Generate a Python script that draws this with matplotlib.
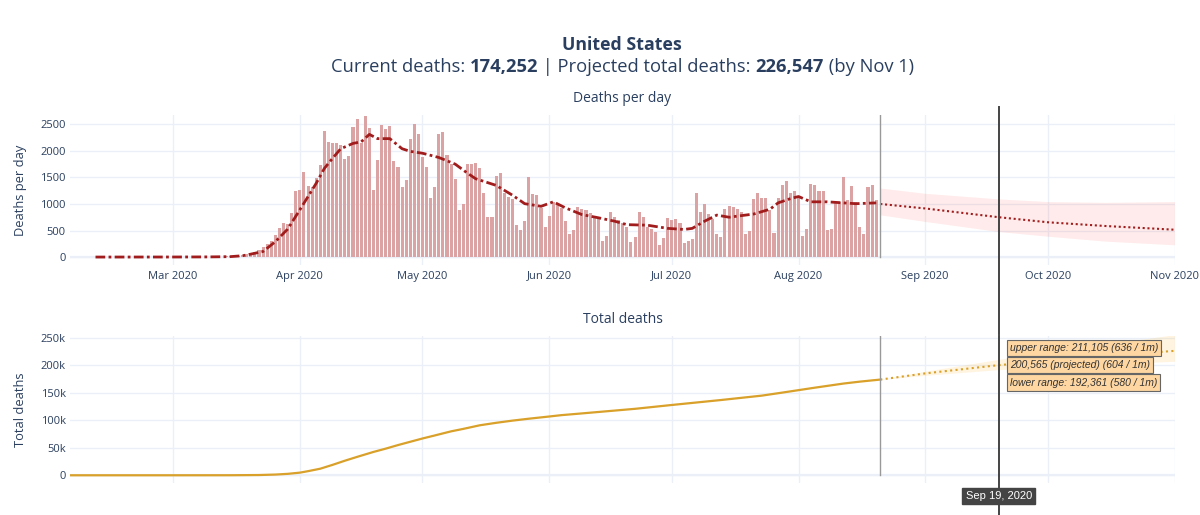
import numpy as np
import pandas as pd
import matplotlib
matplotlib.use('Agg')
import matplotlib.pyplot as plt
import matplotlib.dates as mdates

# Data
daily_start = '2020-03-01'
daily_deaths = [
    # Mar 1 - Mar 26
    1, 0, 3, 4, 1, 2, 3, 4, 4, 6, 8, 7, 10, 11, 13, 18, 24, 40, 55, 80, 100, 130, 190, 240, 310, 420,
    # Mar 27 - Apr 24
    555, 650, 620, 830, 1250, 1260, 1600, 1330, 1310, 1490, 1730, 2370, 2160, 2140, 2140, 2110,
    1840, 1900, 2450, 2600, 2150, 2650, 2430, 1270, 1820, 2490, 2420, 2470, 1800,
    # Apr 25 - Aug 20
    1690, 1325, 1450, 2230, 2510, 2325, 1890, 1690, 1106, 1310, 2310, 2355, 1930, 1760, 1475,
    890, 1000, 1745, 1760, 1775, 1670, 1200, 750, 760, 1530, 1575, 1200, 1140, 1100, 605,
    510, 680, 1510, 1180, 1160, 920, 575, 775, 1045, 1010, 930, 680, 440, 510, 940,
    910, 890, 825, 775, 750, 295, 390, 840, 750, 700, 640, 575, 275, 375, 840,
    760, 575, 525, 480, 230, 355, 730, 690, 710, 640, 260, 295, 340, 1210, 840,
    1000, 810, 720, 440, 375, 910, 960, 950, 905, 855, 440, 500, 1090, 1200, 1120,
    1105, 890, 460, 1105, 1355, 1430, 1200, 1250, 1125, 400, 525, 1370, 1355, 1245, 1245,
    510, 525, 1025, 1045, 1500, 1075, 1340, 1040, 560, 440, 1310, 1350, 1075,
]

avg_dates = ['2020-02-11', '2020-03-01', '2020-03-10', '2020-03-15', '2020-03-18', '2020-03-20',
             '2020-03-23', '2020-03-26', '2020-03-29', '2020-04-01', '2020-04-03', '2020-04-05',
             '2020-04-07', '2020-04-09', '2020-04-11', '2020-04-14', '2020-04-16', '2020-04-18',
             '2020-04-20', '2020-04-23', '2020-04-26', '2020-04-28', '2020-05-01', '2020-05-05',
             '2020-05-09', '2020-05-12', '2020-05-14', '2020-05-19', '2020-05-23', '2020-05-26',
             '2020-05-30', '2020-06-02', '2020-06-05', '2020-06-09', '2020-06-13', '2020-06-17',
             '2020-06-20', '2020-06-25', '2020-06-30', '2020-07-04', '2020-07-06', '2020-07-09',
             '2020-07-12', '2020-07-15', '2020-07-17', '2020-07-21', '2020-07-25', '2020-07-27',
             '2020-07-30', '2020-08-01', '2020-08-04', '2020-08-08', '2020-08-12', '2020-08-15',
             '2020-08-20']
avg_values = [0, 1, 3, 8, 25, 55, 105, 290, 525, 890,
              1140, 1390, 1670, 1860, 2040, 2140, 2170, 2310, 2230, 2230,
              2040, 1990, 1955, 1875, 1750, 1580, 1475, 1350, 1165, 1005,
              955, 1040, 925, 800, 740, 675, 610, 600, 540, 520,
              540, 675, 790, 750, 770, 810, 900, 1020, 1100, 1140,
              1040, 1040, 1020, 1005, 1020]

total_dates = ['2020-02-05', '2020-03-01', '2020-03-15', '2020-03-22', '2020-03-26', '2020-03-29',
               '2020-04-01', '2020-04-03', '2020-04-06', '2020-04-09', '2020-04-12', '2020-04-15',
               '2020-04-19', '2020-04-22', '2020-04-25', '2020-04-28', '2020-05-01', '2020-05-04',
               '2020-05-08', '2020-05-11', '2020-05-15', '2020-05-19', '2020-05-23', '2020-05-27',
               '2020-06-01', '2020-06-04', '2020-06-08', '2020-06-15', '2020-06-22', '2020-07-01',
               '2020-07-07', '2020-07-13', '2020-07-18', '2020-07-23', '2020-07-28', '2020-08-01',
               '2020-08-05', '2020-08-12', '2020-08-16', '2020-08-21']
total_values = [0, 1, 70, 450, 1300, 2600, 4800, 7500, 12000, 19000, 26500, 33500,
                42500, 48500, 55000, 61000, 67000, 72500, 80000, 84500, 91000, 95500, 99500, 103000,
                107000, 109500, 112000, 116500, 121000, 128000, 132500, 137000, 141000, 145000,
                150500, 155000, 159500, 167000, 170500, 174252]

proj_dates = ['2020-08-21', '2020-09-01', '2020-09-19', '2020-10-01', '2020-10-15', '2020-11-01']
proj_daily = [1000, 915, 750, 655, 585, 515]
proj_daily_hi = [1300, 1200, 1095, 1045, 1030, 1045]
proj_daily_lo = [795, 670, 480, 392, 300, 230]
proj_total = [174252, 185500, 200565, 208300, 217000, 226547]
proj_total_hi = [174252, 189500, 211105, 224000, 238500, 256000]
proj_total_lo = [174252, 182000, 192361, 197500, 202500, 207500]

today = pd.Timestamp('2020-08-21')
hover_day = pd.Timestamp('2020-09-19')
hover_labels = ['upper range: 211,105 (636 / 1m)',
                '200,565 (projected) (604 / 1m)',
                'lower range: 192,361 (580 / 1m)']
hover_values = [211105, 200565, 192361]

# styling
txt = '#2a3f5f'
grid = '#ebf0f8'
plt.rcParams['font.family'] = ['Open Sans', 'DejaVu Sans']

daily_x = pd.date_range(daily_start, periods=len(daily_deaths), freq='D')
avg_x = pd.to_datetime(avg_dates)
total_x = pd.to_datetime(total_dates)
proj_x = pd.to_datetime(proj_dates)

fig = plt.figure(figsize=(12, 5.15), dpi=100)
ax1 = fig.add_axes([0.0583, 0.4854, 0.9208, 0.2913])
ax2 = fig.add_axes([0.0583, 0.0622, 0.9208, 0.2854], sharex=ax1)

x0 = pd.Timestamp('2020-02-04 18:00')
x1 = pd.Timestamp('2020-11-01 02:00')

# top panel
ax1.fill_between(proj_x, proj_daily_lo, proj_daily_hi, color=(1.0, 0.0, 0.0, 0.08), lw=0, zorder=1)
ax1.bar(daily_x, daily_deaths, width=0.75, color='#dba3a3', lw=0, zorder=2)
ax1.plot(avg_x, avg_values, color='#a11d1d', lw=2.0, ls=(0, (3.5, 1.2, 1, 1.2)), zorder=3)
ax1.plot(proj_x, proj_daily, color='#a11d1d', lw=1.5, ls=(0, (1, 1.3)), zorder=3)
y1lo, y1hi = -150, 2675
ax1.set_ylim(y1lo, y1hi)
ax1.axvline(today, ymin=(0 - y1lo) / (y1hi - y1lo), ymax=1, color='#999999', lw=1, zorder=4)

# bottom panel
ax2.fill_between(proj_x, proj_total_lo, proj_total_hi, color=(1.0, 0.65, 0.0, 0.12), lw=0, zorder=1)
ax2.plot(total_x, total_values, color='#d9a02a', lw=1.6, zorder=3)
ax2.plot(proj_x, proj_total, color='#d9a02a', lw=1.5, ls=(0, (1, 1.6)), zorder=3)
y2lo, y2hi = -14000, 253600
ax2.set_ylim(y2lo, y2hi)
ax2.axvline(today, ymin=(0 - y2lo) / (y2hi - y2lo), ymax=1, color='#999999', lw=1, zorder=4)

for ax in (ax1, ax2):
    ax.set_xlim(x0, x1)
    for s in ax.spines.values():
        s.set_visible(False)
    ax.grid(True, color=grid, lw=1)
    ax.set_axisbelow(True)
    ax.axhline(0, color=grid, lw=1.6, zorder=0.5)
    ax.tick_params(length=0, labelsize=8, colors=txt, pad=3)
    ax.xaxis.set_major_locator(mdates.MonthLocator(bymonth=range(3, 12)))
    ax.xaxis.set_major_formatter(mdates.DateFormatter('%b %Y'))

ax1.set_yticks([0, 500, 1000, 1500, 2000, 2500])
ax2.set_yticks([0, 50000, 100000, 150000, 200000, 250000])
ax2.set_yticklabels(['0', '50k', '100k', '150k', '200k', '250k'])
ax2.tick_params(axis='x', labelbottom=False)
ax1.tick_params(axis='x', pad=4)

ax1.set_ylabel('Deaths per day', fontsize=9.3, color=txt)
ax2.set_ylabel('Total deaths', fontsize=9.3, color=txt)
ax1.yaxis.set_label_coords(-0.039, 0.5)
ax2.yaxis.set_label_coords(-0.039, 0.5)
ax1.set_title('Deaths per day', fontsize=10, color=txt, pad=9)
ax2.set_title('Total deaths', fontsize=10, color=txt, pad=9)

# hover spike line through both panels
ax1.axvline(hover_day, ymin=-0.46, ymax=1.055, color='#444444', lw=1.4, clip_on=False, zorder=6)
ax2.axvline(hover_day, ymin=-0.25, ymax=1.0, color='#444444', lw=1.4, clip_on=False, zorder=6)

offsets = [11, 0, -13]
for label, val, dy in zip(hover_labels, hover_values, offsets):
    ax2.annotate(label, xy=(hover_day, val), xytext=(11, dy), textcoords='offset pixels',
                 ha='left', va='center', fontsize=7.5, style='italic', color='#333333',
                 family=['Liberation Sans', 'DejaVu Sans'],
                 bbox=dict(boxstyle='square,pad=0.3', fc='#fdd6a2', ec='#666666', lw=0.8),
                 zorder=7, annotation_clip=False)

ax2.annotate('Sep 19, 2020', xy=(hover_day, 0), xycoords=('data', 'axes fraction'),
             xytext=(0, -13), textcoords='offset pixels', ha='center', va='center',
             fontsize=8, color='white', family=['Liberation Sans', 'DejaVu Sans'],
             bbox=dict(boxstyle='square,pad=0.3', fc='#444444', ec='#444444'),
             zorder=7, annotation_clip=False)

# titles
cx = 0.5185
fig.text(cx, 1 - 45 / 515, 'United States', ha='center', va='center',
         fontsize=12.8, fontweight='bold', color=txt)

pieces = [('Current deaths: ', 'normal'), ('174,252', 'bold'),
          (' | Projected total deaths: ', 'normal'), ('226,547', 'bold'),
          (' (by Nov 1)', 'normal')]
renderer = fig.canvas.get_renderer()
sub_y = 1 - 67 / 515
objs = []
widths = []
for s, w in pieces:
    t = fig.text(0, sub_y, s, ha='left', va='center', fontsize=13.2, fontweight=w, color=txt)
    objs.append(t)
    widths.append(t.get_window_extent(renderer).width)
fw = fig.get_figwidth() * fig.dpi
start = cx * fw - sum(widths) / 2
for t, w in zip(objs, widths):
    t.set_x(start / fw)
    start += w

fig.savefig('out.png', dpi=100, facecolor='white')
